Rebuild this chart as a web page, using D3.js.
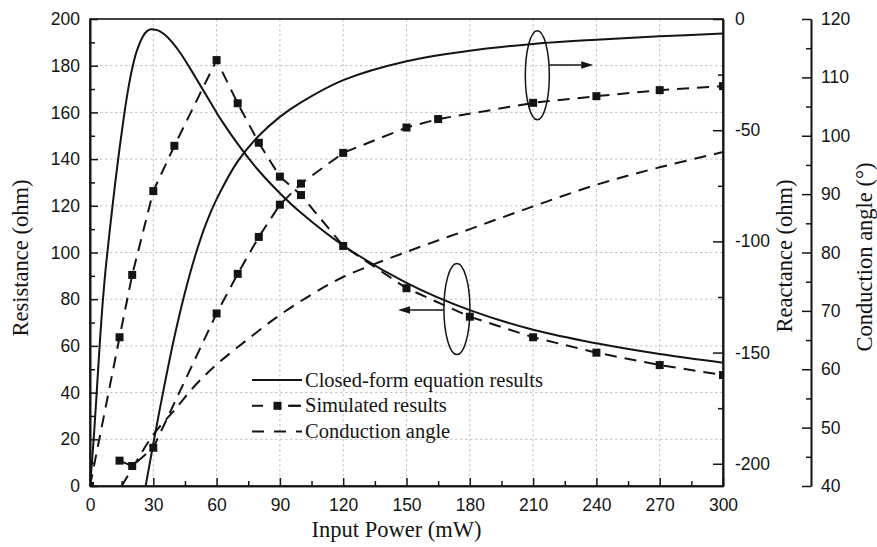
<!DOCTYPE html>
<html>
<head>
<meta charset="utf-8">
<script src="https://cdn.jsdelivr.net/npm/d3@7"></script>
<style>
  html, body { margin: 0; padding: 0; background: #fff; }
  svg { display: block; }
</style>
</head>
<body>
<svg id="chart" width="877" height="547"></svg>
<script>
// ---- closed-form resistance (ohm) vs input power (mW)
const powerClosedR = [0, 1, 2, 3, 4, 5, 6, 7, 8, 10, 12, 14, 16, 18, 20, 22, 25, 27, 29, 31, 33, 37, 42, 47, 52, 57, 62, 70, 80, 90, 100, 120, 150, 180, 210, 240, 270, 300];
const resistanceClosed = [0, 11, 23.5, 37.5, 52, 66, 78.5, 89, 98, 114.6, 130.2, 144.6, 157.8, 169.4, 178.8, 185.8, 192.4, 194.8, 195.6, 195.4, 194.8, 192, 186.5, 179.5, 172, 164.5, 157, 146.5, 135, 125.4, 117, 103, 87, 75.3, 66.9, 61.1, 56.5, 52.8];

// ---- closed-form reactance (ohm)
const powerClosedX = [26, 30, 35, 40, 45, 50, 55, 60, 70, 80, 90, 100, 120, 150, 180, 210, 240, 270, 300];
const reactanceClosed = [-212, -191, -166, -143, -123, -106, -92, -81, -64, -52.5, -44, -37.5, -27.5, -19, -14.3, -11.2, -9.3, -7.8, -6.5];

// ---- simulated resistance (ohm)
const powerSimR = [0, 14, 20, 30, 40, 60, 70, 80, 90, 100, 120, 150, 180, 210, 240, 270, 300];
const resistanceSim = [0, 63.7, 90.4, 126.3, 145.7, 182.4, 163.9, 147, 132.5, 124.6, 102.8, 84.7, 72.5, 63.7, 57.1, 51.8, 47.5];

// ---- simulated reactance (ohm)
const powerSimX = [14, 20, 30, 60, 70, 80, 90, 100, 120, 150, 165, 210, 240, 270, 300];
const reactanceSim = [-198.6, -201, -192.8, -132.4, -114.6, -98, -83.5, -74, -60.2, -48.8, -45, -37.7, -34.7, -32, -30.2];

// ---- conduction angle (degrees)
const powerAngle = [15, 20, 30, 40, 50, 60, 75, 90, 105, 120, 150, 180, 210, 240, 270, 300];
const conductionAngle = [40, 43, 48.8, 53, 57.3, 60.8, 65.2, 69.3, 72.8, 75.8, 80.1, 84, 87.9, 91.6, 94.6, 97.2];

// ---- axis ticks
const xMajorTicks = [0, 30, 60, 90, 120, 150, 180, 210, 240, 270, 300];
const xMinorTicks = [15, 45, 75, 105, 135, 165, 195, 225, 255, 285];
const rMajorTicks = [0, 20, 40, 60, 80, 100, 120, 140, 160, 180, 200];
const rMinorTicks = [10, 30, 50, 70, 90, 110, 130, 150, 170, 190];
const xrMajorTicks = [0, -50, -100, -150, -200];
const xrMinorTicks = [-25, -75, -125, -175];
const angleMajorTicks = [40, 50, 60, 70, 80, 90, 100, 110, 120];
const angleMinorTicks = [45, 55, 65, 75, 85, 95, 105, 115];

const legendLabels = ["Closed-form equation results", "Simulated results", "Conduction angle"];
const axisTitles = { x: "Input Power (mW)", r: "Resistance (ohm)", xr: "Reactance (ohm)", angle: "Conduction angle (\u00B0)" };

// ---- layout
const plot = { left: 90, right: 723, top: 19, bottom: 486 };
const angleAxisX = 811;
const ink = "#141414";
const sansFont = "'Liberation Sans', Arial, sans-serif";
const serifFont = "'Liberation Serif', 'Times New Roman', serif";

const svg = d3.select("#chart");

const x = d3.scaleLinear().domain([0, 300]).range([plot.left, plot.right]);
const yR = d3.scaleLinear().domain([0, 200]).range([plot.bottom, plot.top]);
const yX = d3.scaleLinear().domain([-210, 0]).range([plot.bottom, plot.top]);
const yA = d3.scaleLinear().domain([40, 120]).range([plot.bottom, plot.top]);

svg.append("defs").append("clipPath").attr("id", "plotClip")
  .append("rect")
  .attr("x", plot.left).attr("y", plot.top)
  .attr("width", plot.right - plot.left).attr("height", plot.bottom - plot.top);

// ---- dotted grid
const grid = svg.append("g").attr("stroke", "#c2c2c2").attr("stroke-width", 1).attr("stroke-dasharray", "2.5,2.5");
grid.selectAll("line.v").data(xMajorTicks.slice(1, -1)).join("line")
  .attr("x1", d => x(d)).attr("x2", d => x(d))
  .attr("y1", plot.top).attr("y2", plot.bottom);
grid.selectAll("line.h").data(rMajorTicks.slice(1, -1)).join("line")
  .attr("x1", plot.left).attr("x2", plot.right)
  .attr("y1", d => yR(d)).attr("y2", d => yR(d));

// ---- curves
const plotArea = svg.append("g").attr("clip-path", "url(#plotClip)");

function zip(xs, ys) { return xs.map((v, i) => [v, ys[i]]); }

const closedR = zip(powerClosedR, resistanceClosed);
const closedX = zip(powerClosedX, reactanceClosed);
const simR = zip(powerSimR, resistanceSim);
const simX = zip(powerSimX, reactanceSim);
const angle = zip(powerAngle, conductionAngle);

const smooth = d3.curveCatmullRom.alpha(0.5);

plotArea.append("path").datum(closedR)
  .attr("d", d3.line().x(d => x(d[0])).y(d => yR(d[1])).curve(smooth))
  .attr("fill", "none").attr("stroke", ink).attr("stroke-width", 2);
plotArea.append("path").datum(closedX)
  .attr("d", d3.line().x(d => x(d[0])).y(d => yX(d[1])).curve(smooth))
  .attr("fill", "none").attr("stroke", ink).attr("stroke-width", 2);

plotArea.append("path").datum(angle)
  .attr("d", d3.line().x(d => x(d[0])).y(d => yA(d[1])).curve(smooth))
  .attr("fill", "none").attr("stroke", ink).attr("stroke-width", 2)
  .attr("stroke-dasharray", "12,8");

plotArea.append("path").datum(simR)
  .attr("d", d3.line().x(d => x(d[0])).y(d => yR(d[1])))
  .attr("fill", "none").attr("stroke", ink).attr("stroke-width", 2)
  .attr("stroke-dasharray", "12,8");
plotArea.append("path").datum(simX)
  .attr("d", d3.line().x(d => x(d[0])).y(d => yX(d[1])))
  .attr("fill", "none").attr("stroke", ink).attr("stroke-width", 2)
  .attr("stroke-dasharray", "12,8");

const ms = 8;
plotArea.selectAll("rect.simR").data(simR).join("rect")
  .attr("x", d => x(d[0]) - ms / 2).attr("y", d => yR(d[1]) - ms / 2)
  .attr("width", ms).attr("height", ms).attr("fill", ink);
plotArea.selectAll("rect.simX").data(simX).join("rect")
  .attr("x", d => x(d[0]) - ms / 2).attr("y", d => yX(d[1]) - ms / 2)
  .attr("width", ms).attr("height", ms).attr("fill", ink);

// ---- annotations: ellipses with arrows pointing to the matching axis
const annot = svg.append("g").attr("stroke", ink).attr("fill", "none").attr("stroke-width", 1.5);
function arrow(x0, x1, y) {
  const dir = Math.sign(x1 - x0), head = 12, half = 3.8;
  annot.append("line").attr("x1", x0).attr("x2", x1 - dir * head).attr("y1", y).attr("y2", y);
  annot.append("path")
    .attr("d", `M${x1},${y}L${x1 - dir * head},${y - half}L${x1 - dir * head},${y + half}Z`)
    .attr("fill", ink).attr("stroke", "none");
}
// reactance group (points right)
annot.append("ellipse").attr("cx", x(212)).attr("cy", yX(-25.3)).attr("rx", 12).attr("ry", 44.5);
arrow(x(212) + 12, x(238.5), yX(-20.7));
// resistance group (points left)
annot.append("ellipse").attr("cx", x(173.9)).attr("cy", yR(75.8)).attr("rx", 13).attr("ry", 45.5);
arrow(x(173.9) - 13, x(146), yR(75.4));

// ---- frame
svg.append("rect")
  .attr("x", plot.left).attr("y", plot.top)
  .attr("width", plot.right - plot.left).attr("height", plot.bottom - plot.top)
  .attr("fill", "none").attr("stroke", ink).attr("stroke-width", 1.6);

// ---- axes
function styleAxis(g) {
  g.select(".domain").attr("stroke", ink).attr("stroke-width", 1.6);
  g.selectAll(".tick line").attr("stroke", ink).attr("stroke-width", 1.5);
  g.selectAll("text").attr("fill", ink).attr("font-family", sansFont).attr("font-size", "17.5px");
}

// bottom
svg.append("g").attr("transform", `translate(0,${plot.bottom})`)
  .call(d3.axisBottom(x).tickValues(xMajorTicks).tickSize(-8).tickSizeOuter(0).tickPadding(13).tickFormat(d => String(d)))
  .call(styleAxis);
svg.append("g").attr("transform", `translate(0,${plot.bottom})`)
  .call(d3.axisBottom(x).tickValues(xMinorTicks).tickSize(-5).tickSizeOuter(0).tickFormat(""))
  .call(styleAxis);

// left
svg.append("g").attr("transform", `translate(${plot.left},0)`)
  .call(d3.axisLeft(yR).tickValues(rMajorTicks).tickSize(-8).tickSizeOuter(0).tickPadding(10).tickFormat(d => String(d)))
  .call(styleAxis);
svg.append("g").attr("transform", `translate(${plot.left},0)`)
  .call(d3.axisLeft(yR).tickValues(rMinorTicks).tickSize(-5).tickSizeOuter(0).tickFormat(""))
  .call(styleAxis);

// right: reactance
svg.append("g").attr("transform", `translate(${plot.right},0)`)
  .call(d3.axisRight(yX).tickValues(xrMajorTicks).tickSize(-10).tickSizeOuter(0).tickPadding(12).tickFormat(d => String(d)))
  .call(styleAxis);
svg.append("g").attr("transform", `translate(${plot.right},0)`)
  .call(d3.axisRight(yX).tickValues(xrMinorTicks).tickSize(-5).tickSizeOuter(0).tickFormat(""))
  .call(styleAxis);

// far right: conduction angle
svg.append("g").attr("transform", `translate(${angleAxisX},0)`)
  .call(d3.axisRight(yA).tickValues(angleMajorTicks).tickSize(-9).tickSizeOuter(0).tickPadding(10).tickFormat(d => String(d)))
  .call(styleAxis);
svg.append("g").attr("transform", `translate(${angleAxisX},0)`)
  .call(d3.axisRight(yA).tickValues(angleMinorTicks).tickSize(-5).tickSizeOuter(0).tickFormat(""))
  .call(styleAxis);

// ---- axis titles
const titleSize = "22.5px";
svg.append("text").text(axisTitles.x)
  .attr("x", (plot.left + plot.right) / 2 - 10).attr("y", 537)
  .attr("text-anchor", "middle").attr("font-family", serifFont).attr("font-size", titleSize).attr("fill", ink);
svg.append("text").text(axisTitles.r)
  .attr("transform", "translate(28,258) rotate(-90)")
  .attr("text-anchor", "middle").attr("font-family", serifFont).attr("font-size", titleSize).attr("fill", ink);
svg.append("text").text(axisTitles.xr)
  .attr("transform", "translate(792,256) rotate(-90)")
  .attr("text-anchor", "middle").attr("font-family", serifFont).attr("font-size", titleSize).attr("fill", ink);
svg.append("text").text(axisTitles.angle)
  .attr("transform", "translate(872,257) rotate(-90)")
  .attr("text-anchor", "middle").attr("font-family", serifFont).attr("font-size", titleSize).attr("fill", ink);

// ---- legend
const legend = svg.append("g").attr("transform", "translate(252,380)");
const rowGap = 25.8;
const rows = legend.selectAll("g").data(legendLabels).join("g")
  .attr("transform", (d, i) => `translate(0,${i * rowGap})`);
rows.append("line").attr("x1", 0).attr("x2", 50).attr("y1", 0).attr("y2", 0)
  .attr("stroke", ink).attr("stroke-width", 2)
  .attr("stroke-dasharray", (d, i) => i === 0 ? null : (i === 1 ? "11,26" : "12,10"));
rows.filter((d, i) => i === 1).append("line")
  .attr("x1", 36).attr("x2", 49).attr("y1", 0).attr("y2", 0)
  .attr("stroke", ink).attr("stroke-width", 2);
rows.filter((d, i) => i === 1).append("rect")
  .attr("x", 25.5 - ms / 2).attr("y", -ms / 2).attr("width", ms).attr("height", ms).attr("fill", ink);
rows.append("text").text(d => d)
  .attr("x", 53).attr("y", 6.5)
  .attr("font-family", serifFont).attr("font-size", "20.5px").attr("fill", ink);
</script>
</body>
</html>
